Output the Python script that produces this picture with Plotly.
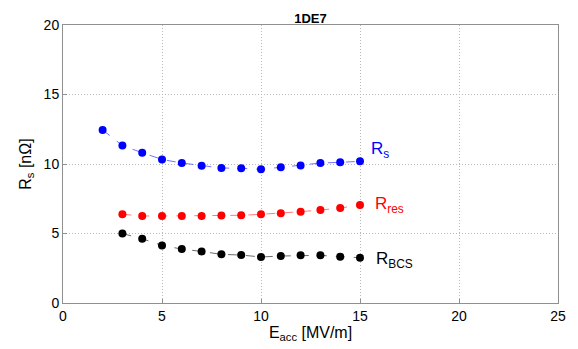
import plotly.graph_objects as go

E_rs = [2, 3, 4, 5, 6, 7, 8, 9, 10, 11, 12, 13, 14, 15]
Rs = [12.45, 11.33, 10.81, 10.33, 10.07, 9.88, 9.71, 9.69, 9.62, 9.76, 9.90, 10.07, 10.12, 10.19]
E_other = [3, 4, 5, 6, 7, 8, 9, 10, 11, 12, 13, 14, 15]
Rres = [6.38, 6.26, 6.26, 6.26, 6.26, 6.29, 6.31, 6.38, 6.45, 6.57, 6.69, 6.83, 7.05]
Rbcs = [5.0, 4.62, 4.14, 3.88, 3.71, 3.50, 3.45, 3.31, 3.38, 3.43, 3.43, 3.33, 3.26]

FONT = "Liberation Sans, Arial, sans-serif"

fig = go.Figure()
series = [
    (E_rs, Rs, "#0000ff", "rgba(80,80,255,0.8)"),
    (E_other, Rres, "#ff0000", "rgba(255,90,90,0.8)"),
    (E_other, Rbcs, "#000000", "rgba(70,70,70,0.8)"),
]
for x, y, c, lc in series:
    fig.add_trace(go.Scatter(x=x, y=y, mode="lines+markers",
                             line=dict(color=lc, width=1, dash="dash"),
                             marker=dict(color=c, size=8),
                             showlegend=False))

labels = [("R<sub>s</sub>", 15.45, 11.2, "#0000ff"),
          ("R<sub>res</sub>", 15.65, 7.27, "#ff0000"),
          ("R<sub>BCS</sub>", 15.7, 3.3, "#000000")]
for t, x, y, c in labels:
    fig.add_annotation(x=x, y=y, text=t, showarrow=False, xanchor="left",
                       yanchor="middle", yshift=-3,
                       font=dict(family=FONT, size=17, color=c))

axis_common = dict(showline=True, linecolor="#909090", linewidth=1, mirror=True,
                   showgrid=True, gridcolor="#b8b8b8", griddash="1px,2px", gridwidth=1,
                   zeroline=False, ticks="inside", ticklen=4, tickcolor="#909090",
                   tickfont=dict(family=FONT, size=14, color="black"))

fig.update_xaxes(range=[0, 25], dtick=5, tick0=0,
                 title=dict(text="E<sub>acc</sub> [MV/m]", standoff=0,
                            font=dict(family=FONT, size=16, color="black")),
                 **axis_common)
fig.update_yaxes(range=[0, 20], dtick=5, tick0=0,
                 title=dict(text="R<sub>s</sub> [nΩ]", standoff=8,
                            font=dict(family=FONT, size=16, color="black")),
                 **axis_common)

fig.update_layout(
    width=578, height=349,
    margin=dict(l=63, r=15, t=25, b=46),
    paper_bgcolor="white", plot_bgcolor="white",
    title=dict(text="<b>1DE7</b>", x=0.5, xanchor="center", xref="paper",
               y=1, yref="paper", yanchor="bottom", pad=dict(b=2),
               font=dict(family=FONT, size=13, color="black")),
)

fig.write_html("out.html")
